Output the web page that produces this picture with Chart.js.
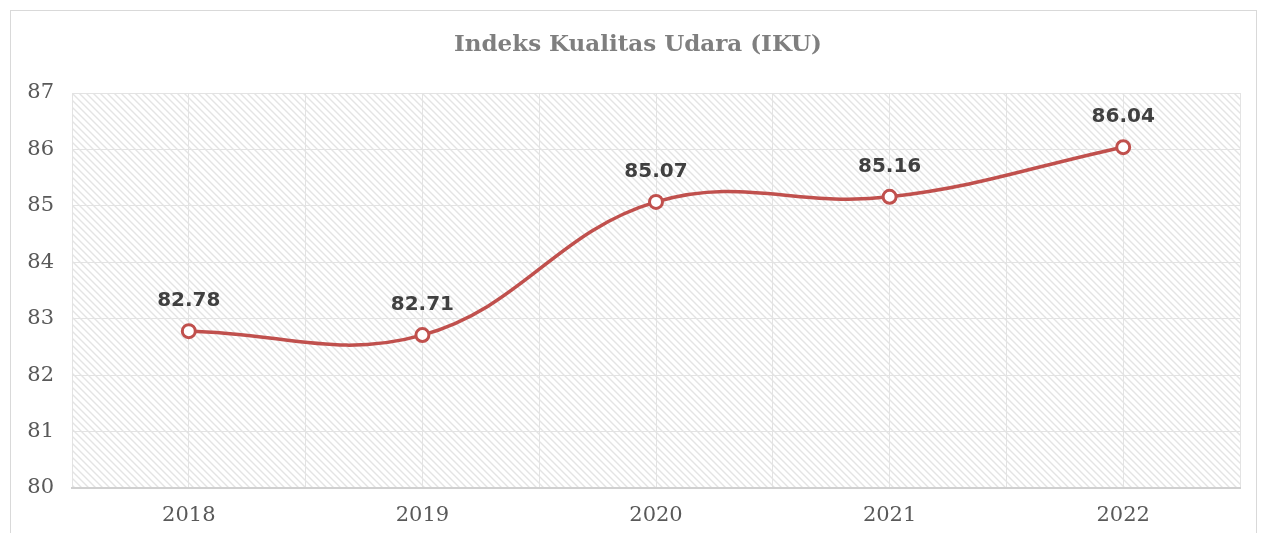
<!DOCTYPE html>
<html>
<head>
<meta charset="utf-8">
<title>Indeks Kualitas Udara (IKU)</title>
<script src="https://cdn.jsdelivr.net/npm/chart.js@4"></script>
<style>
    html, body { margin: 0; padding: 0; background: #fff; }
    #wrap { position: relative; width: 1267px; height: 533px; }
</style>
</head>
<body>
<div id="wrap"><canvas id="ikuChart" width="1267" height="533"></canvas></div>
<script>
const chartTitle = 'Indeks Kualitas Udara (IKU)';
const years = ['2018', '2019', '2020', '2021', '2022'];
const ikuValues = [82.78, 82.71, 85.07, 85.16, 86.04];
const yTicks = [80, 81, 82, 83, 84, 85, 86, 87];

// diagonal hatch like the Excel plot area
function makeHatch() {
    const size = 7;
    const c = document.createElement('canvas');
    c.width = size;
    c.height = size;
    const g = c.getContext('2d');
    g.fillStyle = '#ffffff';
    g.fillRect(0, 0, size, size);
    g.strokeStyle = '#e4e4e4';
    g.lineWidth = 1.4;
    g.beginPath();
    g.moveTo(-1, -1); g.lineTo(size + 1, size + 1);
    g.moveTo(-1, size - 1); g.lineTo(1, size + 1);
    g.moveTo(size - 1, -1); g.lineTo(size + 1, 1);
    g.stroke();
    return g.createPattern(c, 'repeat');
}

const backgroundPlugin = {
    id: 'background',
    beforeDraw(chart) {
        const ctx = chart.ctx;
        const a = chart.chartArea;
        ctx.save();
        // outer frame
        ctx.strokeStyle = '#d9d9d9';
        ctx.lineWidth = 1;
        ctx.strokeRect(10.5, 10.5, 1246, 540);
        // plot area hatch
        ctx.fillStyle = makeHatch();
        ctx.fillRect(a.left, a.top, a.right - a.left, a.bottom - a.top);
        // title, centred on the frame
        ctx.font = 'bold 23px "DejaVu Serif"';
        ctx.fillStyle = '#7f7f7f';
        ctx.textAlign = 'center';
        ctx.textBaseline = 'middle';
        ctx.fillText(chartTitle, 638, 45);
        ctx.restore();
    }
};

const valueLabels = {
    id: 'valueLabels',
    afterDatasetsDraw(chart) {
        const ctx = chart.ctx;
        const meta = chart.getDatasetMeta(0);
        ctx.save();
        ctx.font = 'bold 20px "DejaVu Sans"';
        ctx.fillStyle = '#404040';
        ctx.textAlign = 'center';
        ctx.textBaseline = 'middle';
        meta.data.forEach((pt, i) => {
            ctx.fillText(ikuValues[i].toFixed(2), pt.x, pt.y - 30);
        });
        ctx.restore();
    }
};

new Chart(document.getElementById('ikuChart'), {
    type: 'line',
    data: {
        labels: years,
        datasets: [{
            data: ikuValues,
            borderColor: '#c0504d',
            borderWidth: 3.5,
            tension: 0.4,
            pointRadius: 6.5,
            pointBorderWidth: 3,
            pointBackgroundColor: '#ffffff',
            pointBorderColor: '#c0504d',
            xAxisID: 'x',
            yAxisID: 'y'
        }]
    },
    options: {
        responsive: false,
        animation: false,
        devicePixelRatio: 1,
        layout: { padding: { left: 0, right: 27, top: 93, bottom: 0 } },
        plugins: {
            legend: { display: false },
            tooltip: { enabled: false },
            title: { display: false }
        },
        scales: {
            x: {
                type: 'category',
                offset: true,
                grid: { color: '#e3e3e3', lineWidth: 1, drawTicks: false },
                border: { color: '#d0d0d0', width: 2 },
                ticks: {
                    color: '#595959',
                    padding: 15,
                    font: { family: '"DejaVu Serif"', size: 21 }
                },
                afterFit(scale) { scale.height = 45; }
            },
            xb: {
                // second category axis only for the boundary gridlines
                type: 'category',
                labels: years,
                offset: true,
                position: 'bottom',
                grid: { offset: true, color: '#e3e3e3', lineWidth: 1, drawTicks: false },
                border: { display: false },
                ticks: { display: false },
                afterFit(scale) { scale.height = 0; }
            },
            y: {
                min: yTicks[0],
                max: yTicks[yTicks.length - 1],
                afterBuildTicks(scale) { scale.ticks = yTicks.map(v => ({ value: v })); },
                grid: { color: '#e3e3e3', lineWidth: 1, drawTicks: false },
                border: { display: false },
                ticks: {
                    color: '#595959',
                    padding: 18,
                    font: { family: '"DejaVu Serif"', size: 21 }
                },
                afterFit(scale) { scale.width = 72; }
            }
        }
    },
    plugins: [backgroundPlugin, valueLabels]
});
</script>
</body>
</html>
